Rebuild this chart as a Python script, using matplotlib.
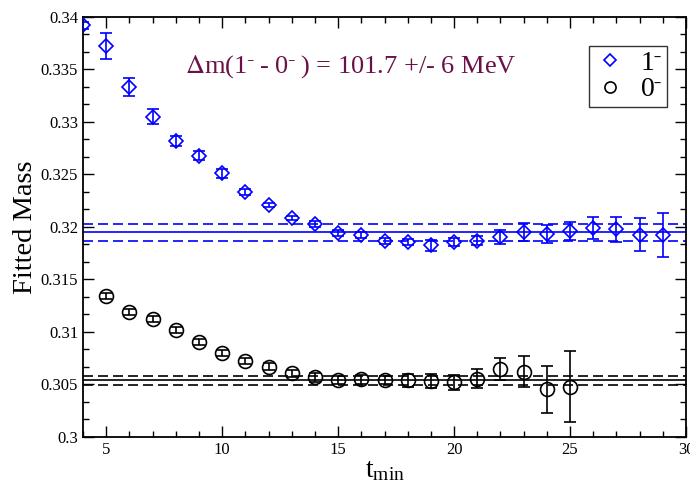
import matplotlib
matplotlib.use('Agg')
import matplotlib.pyplot as plt
from matplotlib.lines import Line2D
from matplotlib.ticker import MultipleLocator, FuncFormatter
import numpy as np

# vector meson 1^- effective-mass fits
t_vec = np.arange(4, 30)
m_vec = [0.3392, 0.33727, 0.33336, 0.33051, 0.32819, 0.32679, 0.32511, 0.32336,
         0.32210, 0.32089, 0.32026, 0.31946, 0.31924, 0.31867, 0.31857, 0.31826,
         0.31857, 0.31870, 0.31908, 0.31950, 0.31930, 0.31965, 0.31987, 0.31978,
         0.31924, 0.31924]
e_vec = [0.0003, 0.00124, 0.00087, 0.0007, 0.0005, 0.0004, 0.0004, 0.0003,
         0.0002, 0.0002, 0.0003, 0.0003, 0.0003, 0.0003, 0.0003, 0.0005,
         0.0004, 0.00045, 0.00067, 0.00087, 0.00087, 0.00087, 0.00106, 0.00117,
         0.00157, 0.0021]

# pseudoscalar 0^- effective-mass fits
t_ps = np.arange(5, 26)
m_ps = [0.31346, 0.31188, 0.31124, 0.31016, 0.30902, 0.30803, 0.30724, 0.30670,
        0.30606, 0.30568, 0.30543, 0.30549, 0.30543, 0.30540, 0.30533, 0.30521,
        0.30556, 0.30645, 0.30622, 0.30454, 0.30479]
e_ps = [0.0003, 0.0003, 0.0003, 0.0003, 0.0003, 0.0003, 0.0003, 0.0003,
        0.0003, 0.0004, 0.0004, 0.0004, 0.0004, 0.0006, 0.00063, 0.0007,
        0.00087, 0.00106, 0.00146, 0.00225, 0.0034]

# plateau fits (central value, error)
fit_vec = (0.3195, 0.0008)
fit_ps = (0.3054, 0.00042)

plt.rcParams['font.family'] = ['Liberation Serif', 'DejaVu Serif']
plt.rcParams['mathtext.fontset'] = 'stix'

fig = plt.figure(figsize=(6.9, 4.94), dpi=100)
ax = fig.add_axes([0.1203, 0.1154, 0.8739, 0.8502])

blue = '#0000ff'
ax.errorbar(t_vec, m_vec, yerr=e_vec, fmt='D', ms=7, mfc='none', mec=blue,
            mew=1.2, ecolor=blue, elinewidth=1.2, capsize=4, capthick=1.2,
            zorder=5)
ax.errorbar(t_ps, m_ps, yerr=e_ps, fmt='o', ms=10, mfc='none', mec='black',
            mew=1.2, ecolor='black', elinewidth=1.2, capsize=4, capthick=1.2,
            zorder=5)

for (c, e), col in [(fit_vec, blue), (fit_ps, 'black')]:
    ax.axhline(c, color=col, lw=1.2)
    ax.axhline(c + e, color=col, lw=1.2, ls=(0, (6, 3)))
    ax.axhline(c - e, color=col, lw=1.2, ls=(0, (6, 3)))

ax.set_xlim(4, 30)
ax.set_ylim(0.3, 0.34)
ax.xaxis.set_major_locator(MultipleLocator(5))
ax.xaxis.set_minor_locator(MultipleLocator(1))
ax.yaxis.set_major_locator(MultipleLocator(0.005))
ax.yaxis.set_minor_locator(MultipleLocator(0.005 / 3))
ax.yaxis.set_major_formatter(FuncFormatter(lambda v, p: f'{v:g}'))
ax.tick_params(which='both', direction='in', top=True, right=True, labelsize=12)
ax.tick_params(which='major', length=8, width=1)
ax.tick_params(which='minor', length=4, width=1)
for s in ax.spines.values():
    s.set_linewidth(1.3)

ax.set_ylabel('Fitted Mass', fontsize=20.5, labelpad=2)
ax.set_xlabel(r'$\mathregular{t_{min}}$', fontsize=20, labelpad=0)

ax.text(0.169, 0.867, r'$\Delta$m(1$^{\bar{\ }}$ - 0$^{\bar{\ }}$ ) = 101.7 +/- 6 MeV',
        transform=ax.transAxes, fontsize=19, color='#6b1048', va='baseline')

handles = [Line2D([], [], ls='none', marker='D', ms=6, mfc='none', mec=blue, mew=1.2),
           Line2D([], [], ls='none', marker='o', ms=8, mfc='none', mec='black', mew=1.2)]
leg = ax.legend(handles, [r'1$^{\bar{\ }}$', r'0$^{\bar{\ }}$'],
                loc='upper right', bbox_to_anchor=(0.9685, 0.931), fontsize=20,
                frameon=True, fancybox=False, edgecolor='black',
                handletextpad=0.5, borderpad=0.15, labelspacing=0.05,
                handlelength=1.2, borderaxespad=0)
leg.get_frame().set_linewidth(1.0)

fig.savefig('out.png', dpi=100)
